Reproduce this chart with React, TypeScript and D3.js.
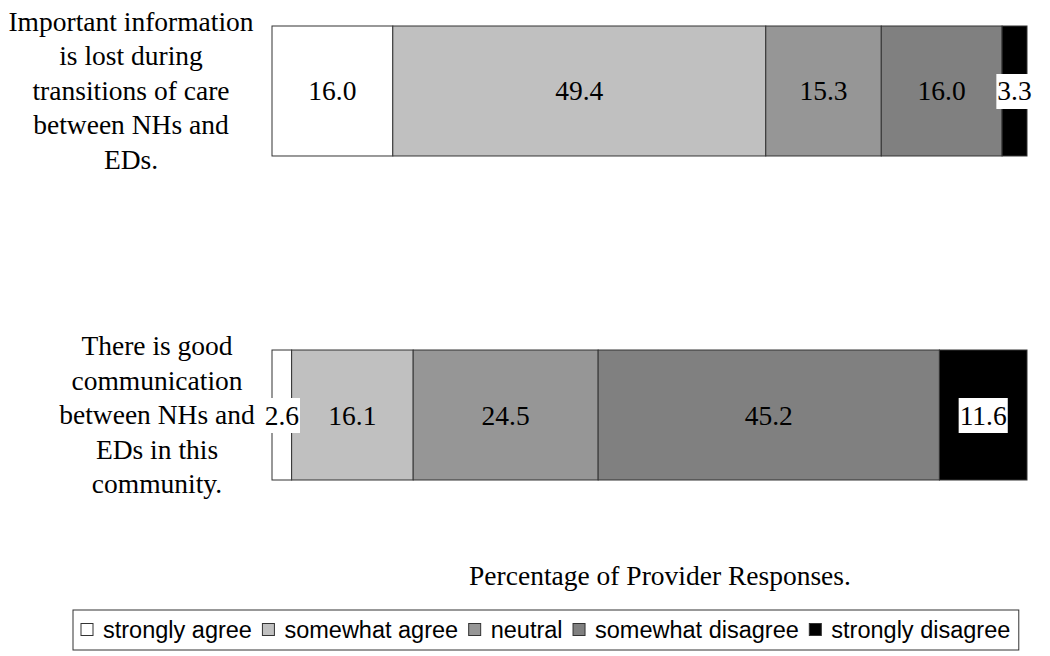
import React, { useEffect, useRef } from "react";
import * as d3 from "d3";

const categories = [
  ["Important information", "is lost during", "transitions of care", "between NHs and", "EDs."],
  ["There is good", "communication", "between NHs and", "EDs in this", "community."],
];
const seriesNames = ["strongly agree", "somewhat agree", "neutral", "somewhat disagree", "strongly disagree"];
const stronglyAgree = [16.0, 2.6];
const somewhatAgree = [49.4, 16.1];
const neutral = [15.3, 24.5];
const somewhatDisagree = [16.0, 45.2];
const stronglyDisagree = [3.3, 11.6];
const colors = ["#ffffff", "#c0c0c0", "#969696", "#808080", "#000000"];
const axisTitle = "Percentage of Provider Responses.";

export default function App() {
  const ref = useRef<SVGSVGElement>(null);
  useEffect(() => {
    const svg = d3.select(ref.current);
    svg.selectAll("*").remove();
    const series = [stronglyAgree, somewhatAgree, neutral, somewhatDisagree, stronglyDisagree];
    const x = d3.scaleLinear().domain([0, 100]).range([272, 1027]);
    const y = d3.scaleBand().domain(["0", "1"]).range([26, 480]).paddingInner(0.5988).paddingOuter(0);
    const serif = "'Liberation Serif', 'Times New Roman', serif";
    const sans = "'Liberation Sans', Arial, sans-serif";
    const fs = 27.5;
    const labelCx = [131, 157];

    categories.forEach((lines, i) => {
      const yc = y(String(i))! + y.bandwidth() / 2;
      const lh = 34.5;
      const t = svg.append("text").attr("font-family", serif).attr("font-size", fs).attr("text-anchor", "middle").attr("fill", "#000");
      lines.forEach((ln, k) => {
        t.append("tspan").attr("x", labelCx[i]).attr("y", yc + (k - (lines.length - 1) / 2) * lh + 9).text(ln);
      });
    });

    categories.forEach((_, i) => {
      let acc = 0;
      series.forEach((s, j) => {
        const v = s[i];
        const x0 = x(acc), x1 = x(acc + v);
        acc += v;
        svg.append("rect").attr("x", x0).attr("y", y(String(i))!).attr("width", x1 - x0).attr("height", y.bandwidth())
          .attr("fill", colors[j]).attr("stroke", "#333").attr("stroke-width", 1);
      });
    });

    categories.forEach((_, i) => {
      let acc = 0;
      const yc = y(String(i))! + y.bandwidth() / 2;
      series.forEach((s, j) => {
        const v = s[i];
        const cx = x(acc + v / 2);
        acc += v;
        const t = svg.append("text").attr("x", cx).attr("y", yc + 9.5).attr("text-anchor", "middle")
          .attr("font-family", serif).attr("font-size", fs).attr("fill", "#000").text(v.toFixed(1));
        const w = (t.node() as SVGTextElement).getComputedTextLength();
        if (w + 4 > x(v) - x(0) || j === 4) {
          svg.insert("rect", () => t.node() as any).attr("x", cx - w / 2 - 1).attr("y", yc - 17).attr("width", w + 2).attr("height", 35).attr("fill", "#fff");
        }
      });
    });

    svg.append("text").attr("x", 660).attr("y", 585).attr("text-anchor", "middle").attr("font-family", serif).attr("font-size", fs).attr("fill", "#000").text(axisTitle);

    const lg = svg.append("g");
    const box = lg.append("rect").attr("x", 73).attr("y", 610).attr("width", 947).attr("height", 40).attr("fill", "#fff").attr("stroke", "#333").attr("stroke-width", 1);
    let cx = 81;
    seriesNames.forEach((n, j) => {
      lg.append("rect").attr("x", cx).attr("y", 623.5).attr("width", 12).attr("height", 12).attr("fill", colors[j]).attr("stroke", "#333").attr("stroke-width", 1);
      const t = lg.append("text").attr("x", cx + 22).attr("y", 638).attr("font-family", sans).attr("font-size", 23.5).attr("fill", "#000").text(n);
      const w = (t.node() as SVGTextElement).getComputedTextLength();
      cx = cx + 22 + w + 10.5;
    });
    box.attr("width", cx - 73 - 2);
  }, []);
  return (
    <svg ref={ref} width={1050} height={656} style={{ position: "absolute", left: 0, top: 0, background: "#fff" }} />
  );
}
